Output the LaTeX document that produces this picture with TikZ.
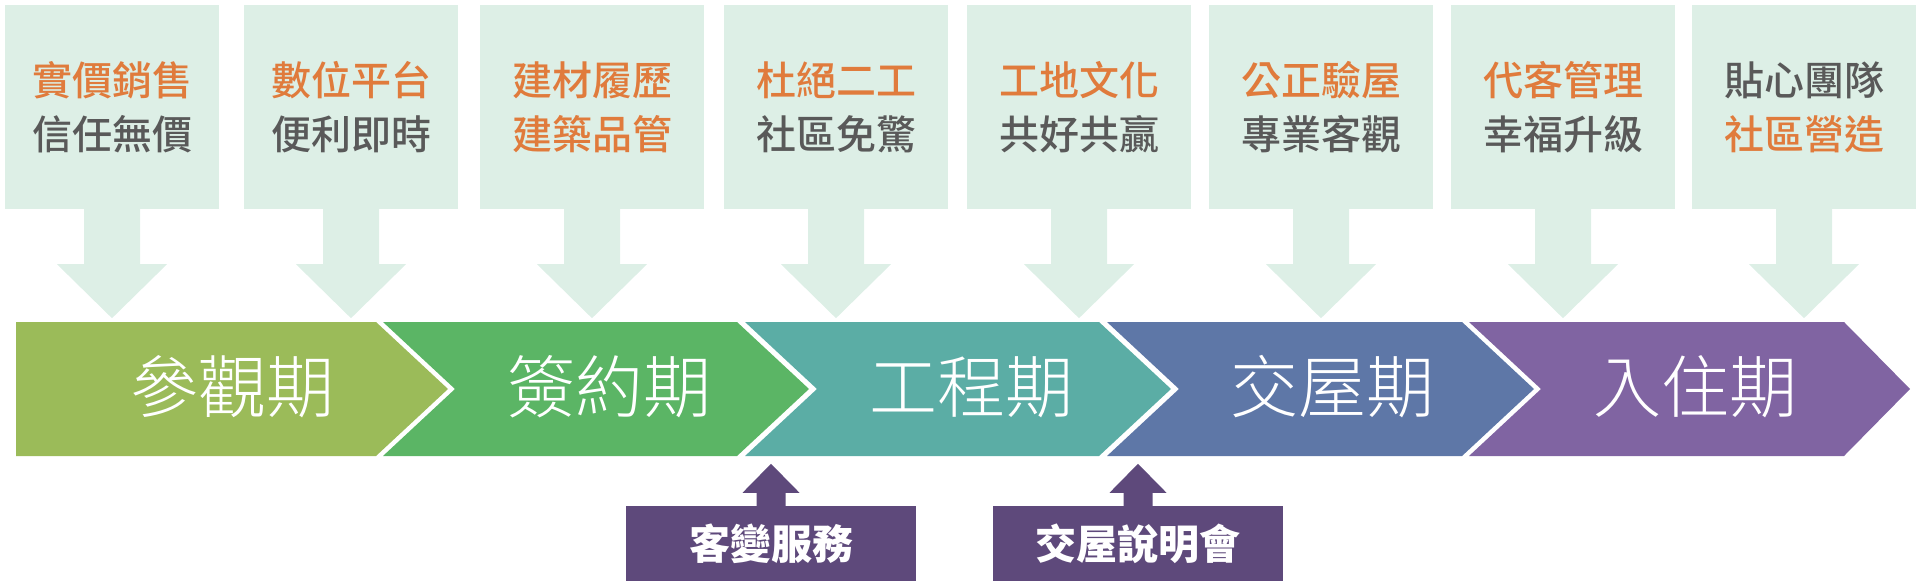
\documentclass[tikz,border=0pt]{standalone}
\usepackage{fontspec}
\setmainfont{Noto Sans CJK TC}
\newfontfamily\phasefont{Noto Sans CJK TC Light}
\newfontfamily\topfont{Noto Sans CJK TC Medium}
\definecolor{boxfill}{HTML}{DDEFE6}
\definecolor{orangetxt}{HTML}{E07B3C}
\definecolor{graytxt}{HTML}{595959}
\definecolor{ph1}{HTML}{9BBB59}
\definecolor{ph2}{HTML}{5BB565}
\definecolor{ph3}{HTML}{5BADA5}
\definecolor{ph4}{HTML}{5E77A7}
\definecolor{ph5}{HTML}{8064A2}
\definecolor{callfill}{HTML}{5E497B}
\begin{document}
\begin{tikzpicture}[x=1pt,y=-1pt,
    topbox/.style={fill=boxfill,minimum height=204pt,inner sep=0pt,align=center,text=graytxt,font=\topfont\fontsize{40}{54}\selectfont},
    phase/.style={text=white,inner sep=0pt,font=\phasefont\fontsize{68}{68}\selectfont},
    callbox/.style={fill=callfill,minimum width=290pt,minimum height=75pt,inner sep=0pt,text=white,font=\fontsize{41}{41}\selectfont\bfseries}]
    \useasboundingbox (0,0) rectangle (1920,588);
    \foreach \n/\x/\w/\a/\b in {1/112/214/\textcolor{orangetxt}{實價銷售}/信任無價,
        2/351/214/\textcolor{orangetxt}{數位平台}/便利即時,
        3/592/224/\textcolor{orangetxt}{建材履歷}/\textcolor{orangetxt}{建築品管},
        4/836/224/\textcolor{orangetxt}{杜絕二工}/社區免驚,
        5/1079/224/\textcolor{orangetxt}{工地文化}/共好共贏,
        6/1321/224/\textcolor{orangetxt}{公正驗屋}/專業客觀,
        7/1563/224/\textcolor{orangetxt}{代客管理}/幸福升級,
        8/1804/224/貼心團隊/\textcolor{orangetxt}{社區營造}}{
        \node[topbox,minimum width=\w pt] (top\n) at (\x,107) {\a\\\b};
        \fill[boxfill] (top\n.south) ++(-28,-1) -- ++(0,56) -- ++(-27,0) -- ++(55,54) -- ++(55,-54) -- ++(-27,0) -- ++(0,-56) -- cycle;
    }
    \foreach \n/\l/\r/\nd/\pd/\tx/\t in {1/16/376/0/72/232/參觀期,
        2/383/737/72/72/609/簽約期,
        3/745/1099/72/72/971/工程期,
        4/1107/1462/72/72/1332/交屋期,
        5/1469/1844/72/66/1695/入住期}{
        \fill[ph\n] (\l,322) -- (\r,322) -- ({\r+\pd},389) -- (\r,456) -- (\l,456) -- ({\l+\nd},389) -- cycle;
        \node[phase] (phase\n) at (\tx,387) {\t};
    }
    \node[callbox] (change) at (771,543.5) {客變服務};
    \node[callbox] (brief) at (1138,543.5) {交屋說明會};
    \foreach \c in {change,brief}
        \fill[callfill] (\c.north) ++(-14.5,1) -- ++(0,-14) -- ++(-14,0) -- ++(28.5,-29) -- ++(28.5,29) -- ++(-14,0) -- ++(0,14) -- cycle;
\end{tikzpicture}
\end{document}
